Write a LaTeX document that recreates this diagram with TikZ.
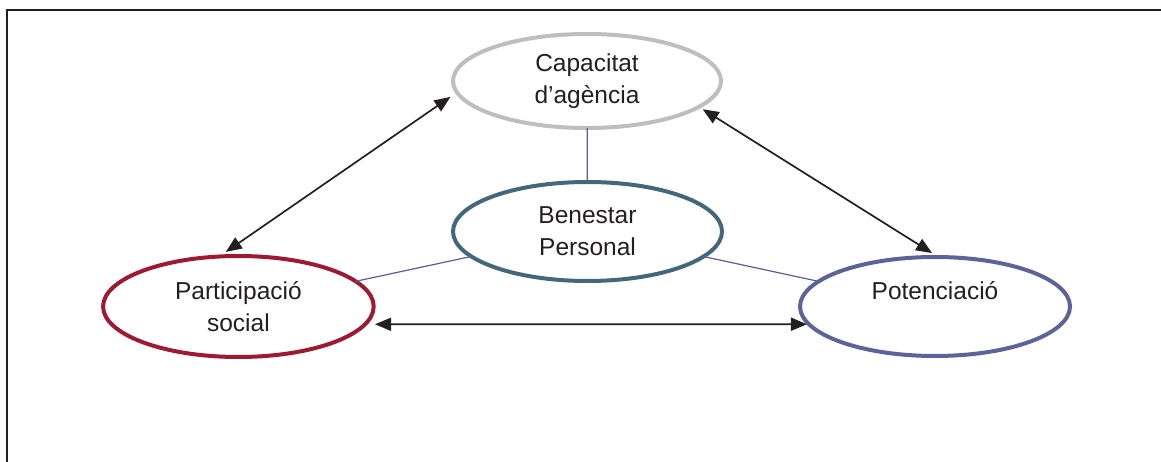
\documentclass[tikz,border=0pt]{standalone}
\usepackage{fontspec}
\setmainfont{Liberation Sans}
\usetikzlibrary{shapes.geometric,arrows.meta}
\definecolor{ink}{HTML}{231F20}
\definecolor{agencycol}{HTML}{BCBEC0}
\definecolor{wellcol}{HTML}{44687A}
\definecolor{partcol}{HTML}{9D1B30}
\definecolor{powercol}{HTML}{5C6399}
\definecolor{tiecol}{HTML}{5B5E96}
\begin{document}
\begin{tikzpicture}[x=1pt,y=-1pt,
  bubble/.style={ellipse, draw, line width=4pt, inner sep=0pt, outer sep=0pt,
    align=center, text=ink, font=\fontsize{24.5}{32}\selectfont},
  tie/.style={draw=tiecol, line width=1.2pt},
  link/.style={draw=ink, line width=1.7pt,
    {Triangle[length=16pt,width=13pt]}-{Triangle[length=16pt,width=13pt]}}]
\useasboundingbox (0,0) rectangle (1161,462);
% open frame
\draw[ink, line width=2pt] (7,462) -- (7,10) -- (1161,10);
% concepts
\node[bubble, draw=agencycol, minimum width=268pt, minimum height=94pt]
  (cap) at (587,81) {Capacitat\\d’agència};
\node[bubble, draw=wellcol, minimum width=269pt, minimum height=99pt]
  (ben) at (587.5,231.5) {Benestar\\Personal};
\node[bubble, draw=partcol, minimum width=270.6pt, minimum height=101pt]
  (par) at (238.4,306.5) {Participació\\social};
\node[bubble, draw=powercol, minimum width=270pt, minimum height=99pt]
  (pot) at (935,306.5) {Potenciació\\\mbox{}};
% ties to the centre
\draw[tie] (cap) -- (ben);
\draw[tie] (ben) -- (par);
\draw[tie] (ben) -- (pot);
% mutual relations
\draw[link, shorten <=8pt, shorten >=8pt] (par.111.6) -- (cap.185.2);
\draw[link, shorten <=4.5pt, shorten >=7.5pt] (cap.347.8) -- (pot.86.2);
\draw[link, shorten <=10pt, shorten >=2pt] (par.352) -- (pot.188);
\end{tikzpicture}
\end{document}
